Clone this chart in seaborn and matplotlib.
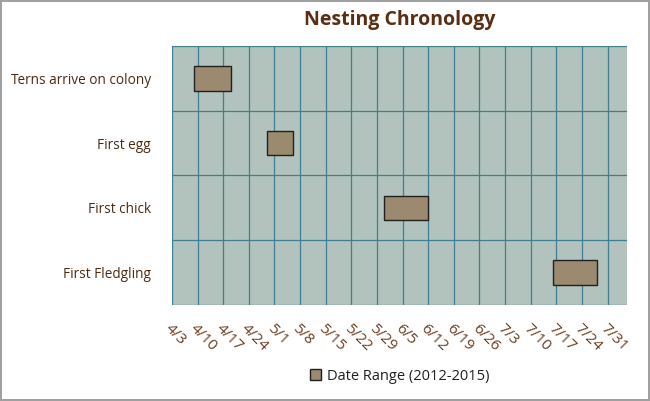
import numpy as np
import matplotlib.pyplot as plt
import seaborn as sns
import pandas as pd

sns.set_theme(style='white', font='Open Sans')

# days counted from 4/3
stages = ['Terns arrive on colony', 'First egg', 'First chick', 'First Fledgling']
start_day = [6, 26, 58, 104]
end_day = [16, 33, 70, 116]
tick_labels = ['4/3', '4/10', '4/17', '4/24', '5/1', '5/8', '5/15', '5/22', '5/29',
               '6/5', '6/12', '6/19', '6/26', '7/3', '7/10', '7/17', '7/24', '7/31']

df = pd.DataFrame({'stage': stages, 'start': start_day, 'end': end_day})
df['dur'] = df['end'] - df['start']

fig = plt.figure(figsize=(6.5, 4.01), dpi=100)
fig.patch.set_facecolor('white')
fig.patch.set_edgecolor('#a0a0a0')
fig.patch.set_linewidth(1.5)
ax = fig.add_axes([0.2646, 0.2394, 0.70, 0.6459])
ax.set_facecolor('#b2c2bc')

grid_c = '#3f7f91'
for i in range(len(tick_labels)):
    ax.axvline(i * 7, color=grid_c, lw=0.9, zorder=1)
for y in np.arange(-0.5, len(stages), 1.0):
    ax.axhline(y, color=grid_c, lw=0.9, zorder=1)

ax.barh(df.index, df['dur'], left=df['start'], height=0.38, color='#9b8a70',
        edgecolor='#202020', lw=1, zorder=3, label='Date Range (2012-2015)')

ax.set_xlim(0, 124.3)
ax.set_ylim(len(stages) - 0.5, -0.5)
ax.set_xticks(np.arange(len(tick_labels)) * 7)
ax.set_xticklabels(tick_labels, rotation=-45, ha='left', va='top',
                   rotation_mode='anchor', color='#6a3d1e', fontsize=11)
ax.set_yticks(range(len(stages)))
ax.set_yticklabels(stages, color='#4a2a10', fontsize=9.8)
ax.tick_params(axis='x', length=0, pad=12)
ax.tick_params(axis='y', length=0, pad=15)
for s in ax.spines.values():
    s.set_visible(False)

fig.suptitle('Nesting Chronology', x=0.615, y=0.975, fontsize=14,
             fontweight='bold', color='#5a2e12')
fig.legend(loc='center', bbox_to_anchor=(0.615, 0.062), frameon=False,
           fontsize=10.5, handlelength=0.8, handleheight=0.8, handletextpad=0.4,
           labelcolor='#202020')
fig.savefig('out.png', dpi=100)
